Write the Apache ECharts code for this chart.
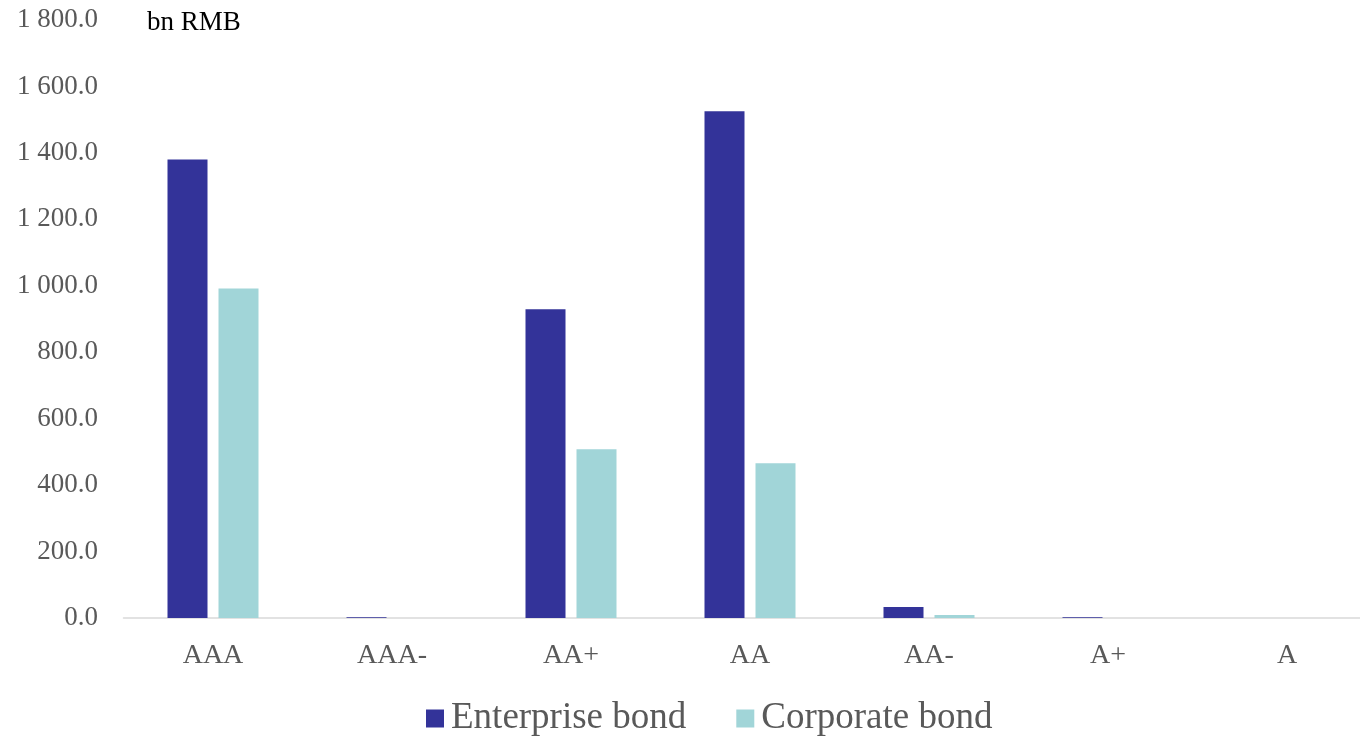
<!DOCTYPE html>
<html><head><meta charset="utf-8">
<script src="https://cdn.jsdelivr.net/npm/echarts@6/dist/echarts.min.js"></script>
<style>html,body{margin:0;padding:0;background:#fff;overflow:hidden}#c{width:1380px;height:738px}</style>
</head><body><div id="c"></div>
<script>
const categories = ['AAA','AAA-','AA+','AA','AA-','A+','A'];
const enterpriseBond = [1380, 2, 929, 1525, 33, 2, 0];
const corporateBond = [992, 0, 508, 466, 9, 0, 0];
const yTicks = [0,200,400,600,800,1000,1200,1400,1600,1800];
const unitLabel = 'bn RMB';
const FONT = '"Liberation Serif", "DejaVu Serif", serif';
function fmt(v){
  const s = v.toFixed(1);
  const [i,d] = s.split('.');
  return i.replace(/\B(?=(\d{3})+(?!\d))/g,' ') + '.' + d;
}
const chart = echarts.init(document.getElementById('c'));
chart.setOption({
  animation:false,
  grid:{left:123.5, top:20, width:1253, height:598, containLabel:false},
  legend:{top:695, left:421, itemWidth:18, itemHeight:18, itemGap:50, icon:'rect',
    textStyle:{fontFamily:FONT, fontSize:37, color:'#595959', padding:[0,0,0,2]},
    data:['Enterprise bond','Corporate bond']},
  graphic:[{type:'text', left:147, top:9, style:{text:unitLabel, fontFamily:FONT, fontSize:27, fill:'#000'}}],
  xAxis:{type:'category', data:categories,
    axisLine:{lineStyle:{color:'#d9d9d9', width:1.5}}, axisTick:{show:false},
    axisLabel:{fontFamily:FONT, fontSize:28, color:'#595959', margin:24}},
  yAxis:{type:'value', min:yTicks[0], max:yTicks[yTicks.length-1], interval:200,
    splitLine:{show:false}, axisLine:{show:false}, axisTick:{show:false},
    axisLabel:{fontFamily:FONT, fontSize:27, color:'#595959', margin:25.5, formatter:fmt}},
  series:[
    {name:'Enterprise bond', type:'bar', data:enterpriseBond, barWidth:40, barGap:'27.5%',
      itemStyle:{color:'#333399'}},
    {name:'Corporate bond', type:'bar', data:corporateBond, barWidth:40,
      itemStyle:{color:'#a1d5d8'}}
  ]
});
</script></body></html>
